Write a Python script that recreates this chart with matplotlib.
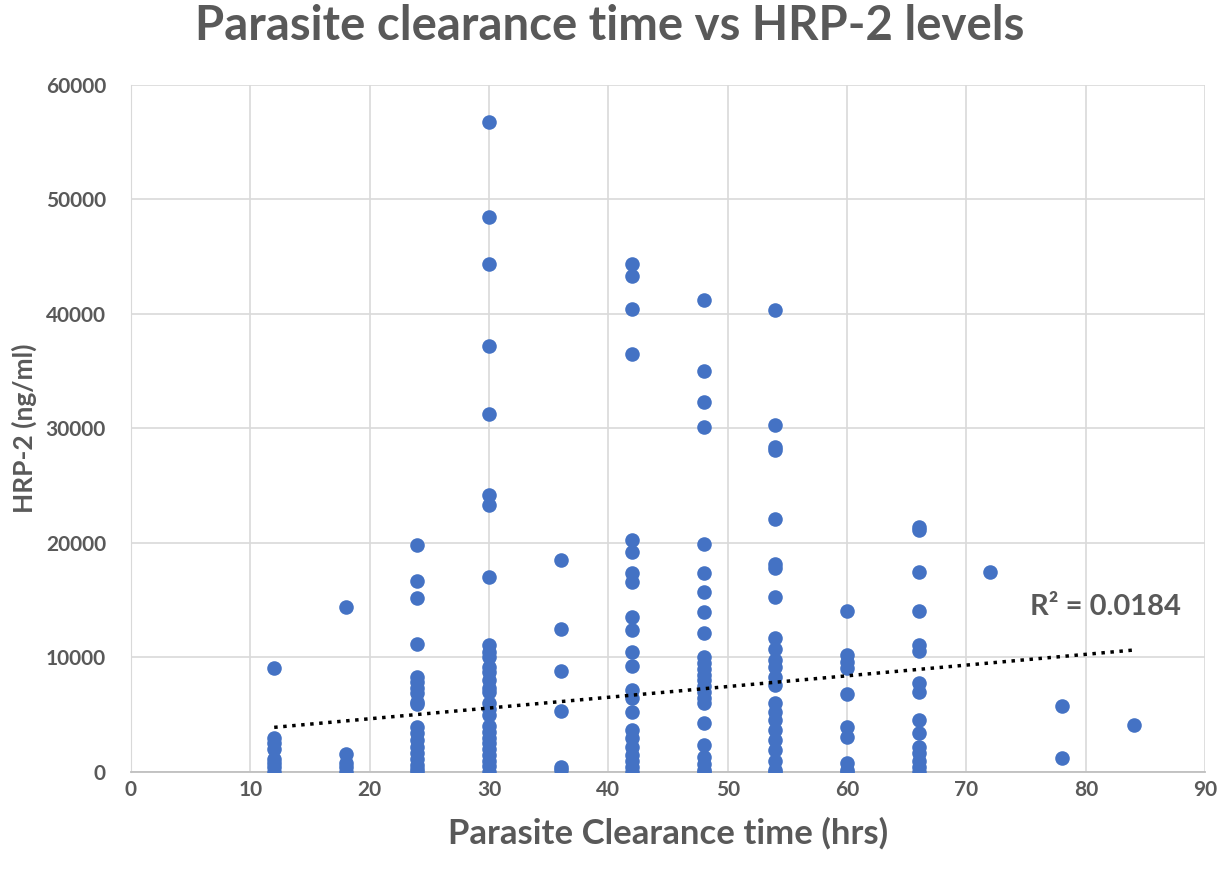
import numpy as np
import matplotlib.pyplot as plt

plt.rcParams['font.family'] = ['Lato', 'DejaVu Sans']

# HRP-2 values (ng/ml) read per clearance-time group (hrs)
x12 = [9100, 3000, 2500, 2000, 1100, 800, 400, 0]
x18 = [14400, 1600, 800, 400, 0]
x24 = [19800, 16700, 15200, 11200, 8300, 7900, 7300, 6900, 6100, 5900,
       3900, 3400, 2800, 2200, 1700, 1100, 600, 300, 0]
x30 = [56800, 48500, 44400, 37200, 31300, 24200, 23300, 17000, 11100, 10500,
       10000, 9200, 8700, 8000, 7300, 7000, 6000, 5500, 5000, 4000, 3500,
       3000, 2500, 2000, 1500, 1000, 500, 0]
x36 = [18500, 12500, 8800, 5300, 400, 200]
x42 = [44400, 43300, 40400, 36500, 20250, 19200, 17400, 16600, 13500, 12400,
       10500, 9300, 7200, 6500, 5200, 3700, 3000, 2200, 1500, 1000, 400, 0]
x48 = [41200, 35000, 32300, 30100, 19900, 17400, 15700, 14000, 12100, 10000,
       9500, 9000, 8500, 8000, 7500, 7000, 6500, 6000, 4300, 2400, 1300,
       700, 200, 0]
x54 = [40300, 30300, 28400, 28100, 22100, 18200, 17800, 15300, 11700, 10700,
       9800, 9200, 8300, 7600, 6000, 5200, 4500, 3700, 2800, 1900, 1000,
       200, 0]
x60 = [14100, 10200, 9600, 9100, 6800, 3900, 3100, 800, 200, 0]
x66 = [21400, 21100, 17500, 14100, 11100, 10600, 7800, 7000, 4500, 3400,
       2200, 1700, 1000, 450, 0]
x72 = [17500]
x78 = [5800, 1200]
x84 = [4100]

# linear trendline (ends at 12 and 84 hrs)
trend_x = [12, 84]
trend_y = [3900, 10650]

groups = {12: x12, 18: x18, 24: x24, 30: x30, 36: x36, 42: x42, 48: x48,
          54: x54, 60: x60, 66: x66, 72: x72, 78: x78, 84: x84}

hours = np.concatenate([[k] * len(v) for k, v in groups.items()]).astype(float)
hrp2 = np.concatenate([v for v in groups.values()]).astype(float)

grey = '#595959'
blue = '#4472C4'

fig = plt.figure(figsize=(12.31, 8.75), dpi=100)
ax = fig.add_axes([0.1064, 0.1177, 0.8726, 0.7853])

ax.scatter(hours, hrp2, s=110, color=blue, zorder=3, linewidths=0)

ax.plot(trend_x, trend_y, color='black', linestyle=(0, (1, 1.6)),
        linewidth=2.5, zorder=4)
ax.text(75.3, 14400, 'R² = 0.0184', color=grey, fontsize=21, fontweight='bold',
        va='center', ha='left')

ax.set_xlim(0, 90)
ax.set_ylim(0, 60000)
ax.set_xticks(range(0, 91, 10))
ax.set_yticks(range(0, 60001, 10000))
ax.grid(True, color='#D9D9D9', linewidth=1.2, zorder=0)
ax.set_axisbelow(True)
for s in ['top', 'right']:
    ax.spines[s].set_visible(False)
ax.spines['left'].set_color('#D9D9D9')
ax.spines['bottom'].set_color('#BFBFBF')
ax.spines['bottom'].set_linewidth(1.3)
ax.tick_params(length=0, labelsize=15, labelcolor=grey)
ax.tick_params(axis='y', pad=18)
ax.tick_params(axis='x', pad=6)
for lab in ax.get_xticklabels() + ax.get_yticklabels():
    lab.set_fontweight('bold')

ax.set_xlabel('Parasite Clearance time (hrs)', fontsize=25, fontweight='bold',
              color=grey, labelpad=12)
ax.set_ylabel('HRP-2 (ng/ml)', fontsize=19, fontweight='bold', color=grey,
              labelpad=6)
fig.suptitle('Parasite clearance time vs HRP-2 levels', fontsize=34,
             fontweight='bold', color=grey, x=0.495, y=0.995)

fig.savefig('out.png', dpi=100)
